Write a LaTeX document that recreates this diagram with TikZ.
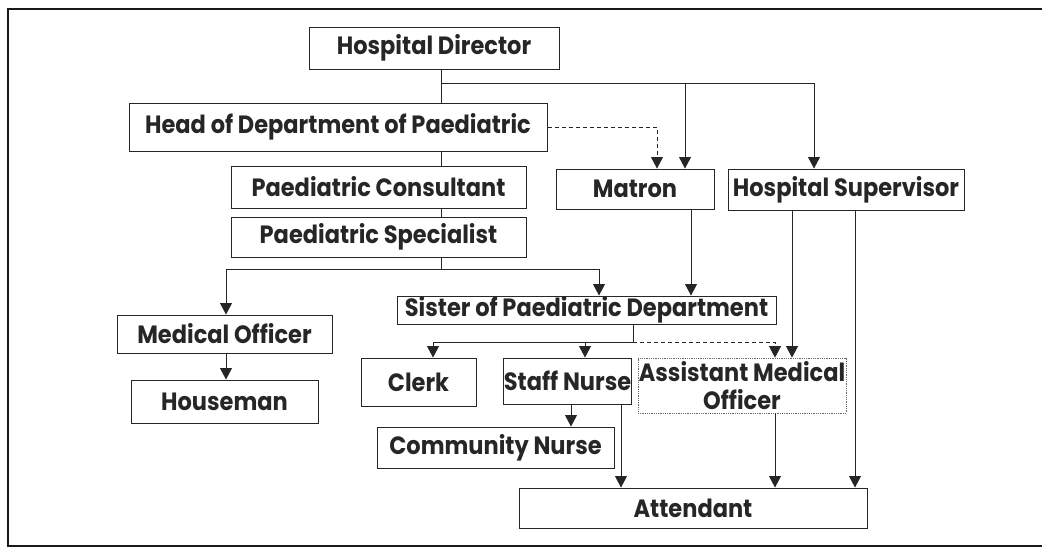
\documentclass[tikz,border=0pt]{standalone}
\usepackage{fontspec}
\setmainfont{Poppins}[FakeStretch=0.9]
\usetikzlibrary{arrows.meta}
\begin{document}
\begin{tikzpicture}[x=1pt,y=-1pt,
  box/.style={draw=black!85,line width=1pt,inner sep=0pt,text=black!85,
    font=\fontsize{25}{28}\selectfont\bfseries,align=center},
  dotbox/.style={box,draw=black!60,line width=0.8pt,densely dotted},
  conn/.style={draw=black!85,line width=0.9pt},
  arr/.style={conn,-{Triangle[width=12pt,length=11.5pt]}},
  dsh/.style={arr,dash pattern=on 4pt off 3pt}]
\useasboundingbox (0,0) rectangle (1042,550);
% frame (right side lies outside the picture)
\draw[line width=2pt,black!90] (1042,9) -- (8,9) -- (8,546) -- (1042,546);
% boxes
\node[box,minimum width=250pt,minimum height=42pt] (hd)   at (434,48)    {Hospital Director};
\node[box,minimum width=418pt,minimum height=48pt] (hod)  at (338,127)   {Head of Department of Paediatric};
\node[box,minimum width=295pt,minimum height=42pt] (cons) at (378.5,187) {Paediatric Consultant};
\node[box,minimum width=295pt,minimum height=40pt] (spec) at (378.5,237) {Paediatric Specialist};
\node[box,minimum width=158pt,minimum height=40pt] (mat)  at (635,189)   {Matron};
\node[box,minimum width=236pt,minimum height=41pt] (hs)   at (846,189.5) {Hospital Supervisor};
\node[box,minimum width=379pt,minimum height=28pt] (sis)  at (586.5,310) {Sister of Paediatric Department};
\node[box,minimum width=215pt,minimum height=38pt] (mo)   at (224.5,334) {Medical Officer};
\node[box,minimum width=187pt,minimum height=43pt] (hm)   at (224.5,401.5) {Houseman};
\node[box,minimum width=115pt,minimum height=48pt] (clk)  at (418.5,382) {Clerk};
\node[box,minimum width=127pt,minimum height=46pt] (sn)   at (567.5,381) {Staff Nurse};
\node[dotbox,minimum width=208pt,minimum height=55pt] (amo) at (742,385.5) {Assistant Medical\\Officer};
\node[box,minimum width=237pt,minimum height=41pt] (cn)   at (495.5,447.5) {Community Nurse};
\node[box,minimum width=348pt,minimum height=40pt] (att)  at (693,508)   {Attendant};
% junction coordinates
\coordinate (b1) at (441,83);
\coordinate (m1) at (685,83);
\coordinate (h1) at (814,83);
\coordinate (d1) at (657,127);
\coordinate (b2) at (441,269);
\coordinate (l2) at (226,269);
\coordinate (r2) at (599,269);
\coordinate (m2) at (691,0);
\coordinate (b3) at (633,342);
\coordinate (k3) at (433,342);
\coordinate (s3) at (585,342);
\coordinate (a3) at (775,342);
\coordinate (h4) at (792,0);
\coordinate (h5) at (855,0);
\coordinate (n1) at (571,0);
\coordinate (n2) at (621,0);
% connectors
\draw[conn] (hd.south -| b1) -- (hod.north -| b1);
\draw[arr] (b1) -| (hs.north -| h1);
\draw[arr] (m1) -- (mat.north -| m1);
\draw[dsh] (hod.east) -| (mat.north -| d1);
\draw[conn] (hod.south -| b1) -- (cons.north -| b1);
\draw[conn] (cons.south -| b1) -- (spec.north -| b1);
\draw[conn] (spec.south -| b2) -- (b2);
\draw[arr] (b2) -- (l2) -- (mo.north -| l2);
\draw[arr] (b2) -- (r2) -- (sis.north -| r2);
\draw[arr] (mat.south -| m2) -- (sis.north -| m2);
\draw[arr] (mo.south -| l2) -- (hm.north -| l2);
\draw[conn] (sis.south -| b3) -- (b3);
\draw[arr] (b3) -- (k3) -- (clk.north -| k3);
\draw[arr] (s3) -- (sn.north -| s3);
\draw[dsh] (b3) -- (a3) -- (amo.north -| a3);
\draw[arr] (hs.south -| h4) -- (amo.north -| h4);
\draw[arr] (hs.south -| h5) -- (att.north -| h5);
\draw[arr] (sn.south -| n1) -- (cn.north -| n1);
\draw[arr] (sn.south -| n2) -- (att.north -| n2);
\draw[arr] (amo.south -| a3) -- (att.north -| a3);
\end{tikzpicture}
\end{document}
